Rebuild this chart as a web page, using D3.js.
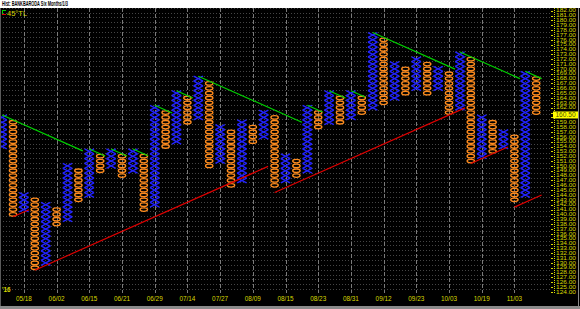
<!DOCTYPE html>
<html><head><meta charset="utf-8">
<script src="https://cdn.jsdelivr.net/npm/d3@7"></script>
<style>html,body{margin:0;padding:0;background:#000;}svg{display:block;}</style>
</head><body>
<script>
// ---- data ----
const title = "Hist: BANKBARODA Six Months/1/3";
const colTypes = ["X","O","X","O","X","O","X","O","X","O","X","O","X","O","X","O","X","O","X","O",
                  "X","O","X","O","X","O","X","O","X","O","X","O","X","O","X","O","X","O","X","O",
                  "X","O","X","O","X","O","X","O","X","O"];
const colLow  = [154,140,141,129,130,138,139,143,144,149,150,148,149,141,142,154,155,159,160,150,
                 151,146,147,155,156,146,147,148,149,158,159,159,160,161,162,163,164,165,166,165,
                 166,161,162,151,152,153,154,143,144,161];
const colHigh = [160,159,144,143,142,141,150,149,153,152,153,152,153,152,162,161,165,164,168,167,
                 158,157,159,158,161,160,152,151,162,161,165,164,165,164,177,176,171,170,172,171,
                 170,169,173,172,160,159,157,156,169,168];
// 45-degree trend lines: [start column, start price, end column]
const resistStart = [0,8,10,12,14,16,18,28,30,32,34,42,48];
const resistPrice = [160.5,153.5,153.5,153.5,162.5,165.5,168.5,162.5,165.5,165.5,177.5,173.5,169.5];
const resistEnd   = [7.4,9.45,11.45,13.4,15.6,17.5,27.5,29.4,31.5,33.3,41.55,47.5,49.5];
const supportStart = [1,3,25,43,47];
const supportPrice = [139.5,128.5,144.5,150.5,141.5];
const supportEnd   = [2.47,24.4,42.47,46.4,49.5];
const dateCols   = [2,5,8,11,14,17,20,23,26,29,32,35,38,41,44,47];
const dateLabels = ["05/18","06/02","06/15","06/21","06/29","07/14","07/27","08/09","08/15",
                    "08/23","08/31","09/12","09/23","10/03","10/19","11/03"];
const priceTicks = d3.range(124, 184, 1);
const lastPrice = 160.50;
const yearLabel = "'16";
const legendLabel = "45°TL";

// ---- layout ----
const W = 580, H = 309;
const plotTop = 8, plotBottom = 293, plotRight = 551;
const svg = d3.select("body").append("svg").attr("width", W).attr("height", H)
  .style("font-family", "'Liberation Sans', Arial, sans-serif");
svg.append("rect").attr("width", W).attr("height", H).attr("fill", "#000");

const x = d3.scaleLinear().domain([0, 49]).range([2.1, 2.1 + 49 * 10.9]);
const y = d3.scaleLinear().domain([124, 183]).range([292, 292 - 59 * 4.85]);
const bh = y(0) - y(1);
const yellow = "#d8d800";

svg.append("clipPath").attr("id", "plotclip").append("rect")
  .attr("x", 0).attr("y", plotTop).attr("width", plotRight).attr("height", plotBottom - plotTop);
const plot = svg.append("g").attr("clip-path", "url(#plotclip)");

// horizontal grid at box edges
plot.append("g").selectAll("line").data(d3.range(123.5, 184, 1)).join("line")
  .attr("x1", 0).attr("x2", plotRight).attr("y1", d => y(d)).attr("y2", d => y(d))
  .attr("stroke", "#454545").attr("stroke-width", 1).attr("stroke-dasharray", "1,2")
  .attr("shape-rendering", "crispEdges");
// vertical grid
plot.append("g").selectAll("line").data(dateCols).join("line")
  .attr("x1", d => Math.round(x(d)) + 0.5).attr("x2", d => Math.round(x(d)) + 0.5)
  .attr("y1", plotTop).attr("y2", plotBottom)
  .attr("stroke", "#7a7a7a").attr("stroke-width", 1).attr("stroke-dasharray", "4,2");

// columns
const boxes = [];
colTypes.forEach((t, i) => {
  for (let p = colLow[i]; p <= colHigh[i]; p++) boxes.push({c: i, p, t});
});
const gX = plot.append("g").attr("stroke", "#2323ff").attr("stroke-width", 1.4).attr("fill", "none");
boxes.filter(b => b.t === "X").forEach(b => {
  const cx = x(b.c), cy = y(b.p);
  gX.append("path").attr("d",
    `M${cx - 4.7},${cy + bh / 2}L${cx + 4.7},${cy - bh / 2}M${cx - 4.7},${cy - bh / 2}L${cx + 4.7},${cy + bh / 2}`);
});
plot.append("g").selectAll("ellipse").data(boxes.filter(b => b.t === "O")).join("ellipse")
  .attr("cx", d => x(d.c)).attr("cy", d => y(d.p)).attr("rx", 3.7).attr("ry", 1.75)
  .attr("fill", "none").attr("stroke", "#ff8c1e").attr("stroke-width", 1.3);

// trend lines
const resist = resistStart.map((c, i) => ({c0: c, p0: resistPrice[i], c1: resistEnd[i], dir: -1}));
const support = supportStart.map((c, i) => ({c0: c, p0: supportPrice[i], c1: supportEnd[i], dir: 1}));
plot.append("g").selectAll("line").data(resist).join("line")
  .attr("x1", d => x(d.c0)).attr("y1", d => y(d.p0))
  .attr("x2", d => x(d.c1)).attr("y2", d => y(d.p0 + d.dir * (d.c1 - d.c0)))
  .attr("stroke", "#00d000").attr("stroke-width", 1.2);
plot.append("g").selectAll("line").data(support).join("line")
  .attr("x1", d => x(d.c0)).attr("y1", d => y(d.p0))
  .attr("x2", d => x(d.c1)).attr("y2", d => y(d.p0 + d.dir * (d.c1 - d.c0)))
  .attr("stroke", "#dd0000").attr("stroke-width", 1.2);

// right price axis
svg.append("line").attr("x1", 554.5).attr("x2", 554.5).attr("y1", plotTop).attr("y2", plotBottom)
  .attr("stroke", yellow).attr("stroke-dasharray", "1,1");
const ax = svg.append("g");
ax.selectAll("line").data(priceTicks).join("line")
  .attr("x1", 551).attr("x2", 553).attr("y1", d => Math.round(y(d)) + 0.5).attr("y2", d => Math.round(y(d)) + 0.5)
  .attr("stroke", yellow);
// labels that sit under the current-price tag are covered by it in the reference
const yLast = y(lastPrice);
ax.selectAll("text").data(priceTicks).join("text")
  .attr("x", 556).attr("y", d => y(d) + 1.7).attr("font-size", 4.5).attr("fill", yellow)
  .attr("textLength", 20).attr("lengthAdjust", "spacingAndGlyphs")
  .attr("opacity", d => Math.abs(y(d) - yLast) < 5 ? 0 : 1)
  .text(d => d.toFixed(2));
// current price label
svg.append("rect").attr("x", 553).attr("y", yLast - 3.5).attr("width", 25).attr("height", 7)
  .attr("fill", "#ffff00");
svg.append("text").attr("x", 565.5).attr("y", yLast + 2.4).attr("text-anchor", "middle")
  .attr("font-size", 6.6).attr("fill", "#505000").text(lastPrice.toFixed(2));

// date labels
svg.append("g").selectAll("text").data(dateCols).join("text")
  .attr("x", (d) => x(d)).attr("y", 301).attr("text-anchor", "middle")
  .attr("font-size", 6.4).attr("fill", yellow)
  .text((d, i) => dateLabels[i]);
svg.append("text").attr("x", 2).attr("y", 292).attr("font-size", 6.4).attr("font-weight", "bold")
  .attr("fill", yellow).text(yearLabel);

// legend
svg.append("line").attr("x1", 2).attr("x2", 6).attr("y1", 10.5).attr("y2", 10.5).attr("stroke", "#00d000");
svg.append("line").attr("x1", 2.5).attr("x2", 2.5).attr("y1", 10).attr("y2", 15).attr("stroke", "#00d000");
svg.append("line").attr("x1", 2).attr("x2", 6).attr("y1", 14.5).attr("y2", 14.5).attr("stroke", "#dd0000");
svg.append("text").attr("x", 7).attr("y", 15.5).attr("font-size", 7.5).attr("fill", yellow).text(legendLabel);

// title bar
svg.append("rect").attr("x", 0).attr("y", 0).attr("width", W).attr("height", plotTop).attr("fill", "#fff");
svg.append("text").attr("x", 2).attr("y", 6.3).attr("font-size", 6.5).attr("font-weight", "bold")
  .attr("fill", "#000").attr("textLength", 66).attr("lengthAdjust", "spacingAndGlyphs").text(title);

// frame
svg.append("rect").attr("x", 0).attr("y", 306).attr("width", W).attr("height", 3).attr("fill", "#8a8a8a");
svg.append("line").attr("x1", 0.5).attr("x2", 0.5).attr("y1", plotTop).attr("y2", 306).attr("stroke", "#5a5a5a");
svg.append("line").attr("x1", 578.5).attr("x2", 578.5).attr("y1", plotTop).attr("y2", 306).attr("stroke", "#8a8a8a");
</script>
</body></html>
